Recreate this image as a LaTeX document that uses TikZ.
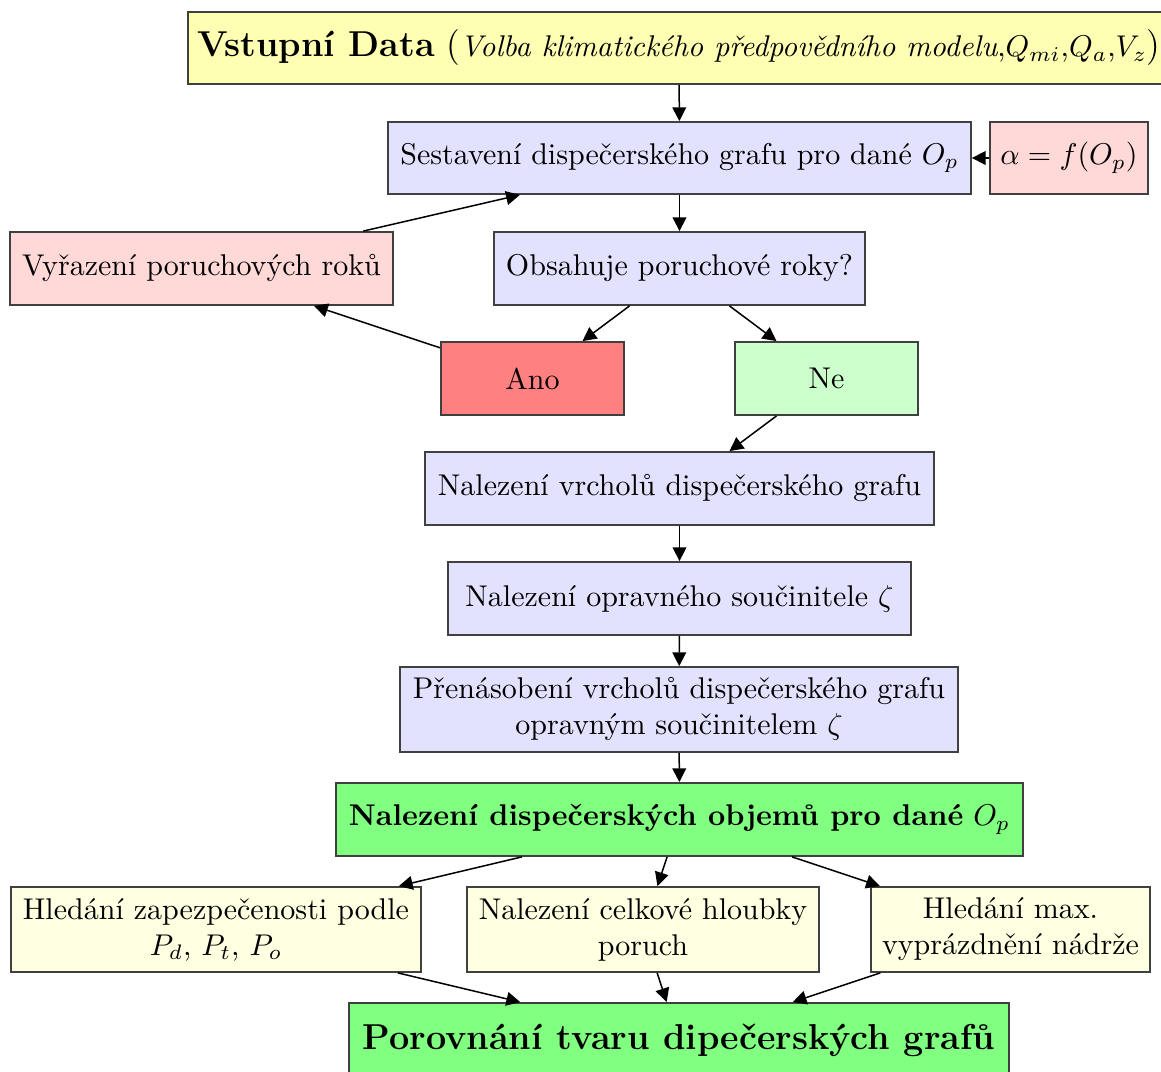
\documentclass[tikz,border=0pt]{standalone}
\usepackage{fontspec}
\usetikzlibrary{arrows.meta}
\begin{document}
\begin{tikzpicture}[x=0.33333pt,y=-0.33333pt,
  box/.style n args={2}{draw=black!75, line width=0.6pt, inner sep=0pt, align=center,
    minimum width=#1*0.33333pt, minimum height=#2*0.33333pt},
  conn/.style={-{Triangle[length=4.6pt,width=4.6pt]}, line width=0.5pt, black}]
\useasboundingbox (0,0) rectangle (1161,1072);
\clip (0,0) rectangle (1161,1072);
\definecolor{topyel}{RGB}{255,255,180}
\definecolor{lav}{RGB}{226,226,255}
\definecolor{pinkc}{RGB}{255,216,216}
\definecolor{anoc}{RGB}{255,128,128}
\definecolor{nec}{RGB}{204,255,204}
\definecolor{grn}{RGB}{128,255,128}
\definecolor{lyel}{RGB}{255,255,226}

\node[box={982}{72}, fill=topyel] (top) at (679,48)
  {{\large\textbf{Vstupní Data} (}\textit{Volba klimatického předpovědního modelu},$Q_{mi}$,$Q_a$,$V_z${\large)}};
\node[box={583}{72}, fill=lav] (sest) at (679.5,158) {Sestavení dispečerského grafu pro dané $O_p$};
\node[box={158}{72}, fill=pinkc] (alpha) at (1069,158) {$\alpha=f(O_p)$};
\node[box={383}{73}, fill=pinkc] (vyr) at (201.5,268.5) {Vyřazení poruchových roků};
\node[box={371}{73}, fill=lav] (obs) at (679.5,268.5) {Obsahuje poruchové roky?};
\node[box={183}{73}, fill=anoc] (ano) at (532.5,378.5) {Ano};
\node[box={183}{73}, fill=nec] (ne) at (826.5,378.5) {Ne};
\node[box={509}{73}, fill=lav] (vrch) at (679.5,488.5) {Nalezení vrcholů dispečerského grafu};
\node[box={463}{73}, fill=lav] (opr) at (679.5,598.5) {Nalezení opravného součinitele $\zeta$};
\node[box={558}{85}, fill=lav] (pren) at (679,709.5) {Přenásobení vrcholů dispečerského grafu\\opravným součinitelem $\zeta$};
\node[box={687}{73}, fill=grn] (obj) at (679.5,819.5) {\textbf{Nalezení dispečerských objemů pro dané} $O_p$};
\node[box={410}{85}, fill=lyel] (hl1) at (216,929.5) {Hledání zapezpečenosti podle\\$P_d$, $P_t$, $P_o$};
\node[box={352}{85}, fill=lyel] (hl2) at (643,929.5) {Nalezení celkové hloubky\\poruch};
\node[box={279}{85}, fill=lyel] (hl3) at (1010.5,929.5) {Hledání max.\\vyprázdnění nádrže};
\node[box={660}{74}, fill=grn] (por) at (679,1040) {\large\textbf{Porovnání tvaru dipečerských grafů}};

\draw[conn] (top) -- (sest);
\draw[conn] (alpha) -- (sest);
\draw[conn] (sest) -- (obs);
\draw[conn] (vyr) -- (sest);
\draw[conn] (obs) -- (ano);
\draw[conn] (obs) -- (ne);
\draw[conn] (ano) -- (vyr);
\draw[conn] (ne) -- (vrch);
\draw[conn] (vrch) -- (opr);
\draw[conn] (opr) -- (pren);
\draw[conn] (pren) -- (obj);
\draw[conn] (obj) -- (hl1);
\draw[conn] (obj) -- (hl2);
\draw[conn] (obj) -- (hl3);
\draw[conn] (hl1) -- (por);
\draw[conn] (hl2) -- (por);
\draw[conn] (hl3) -- (por);
\end{tikzpicture}
\end{document}
